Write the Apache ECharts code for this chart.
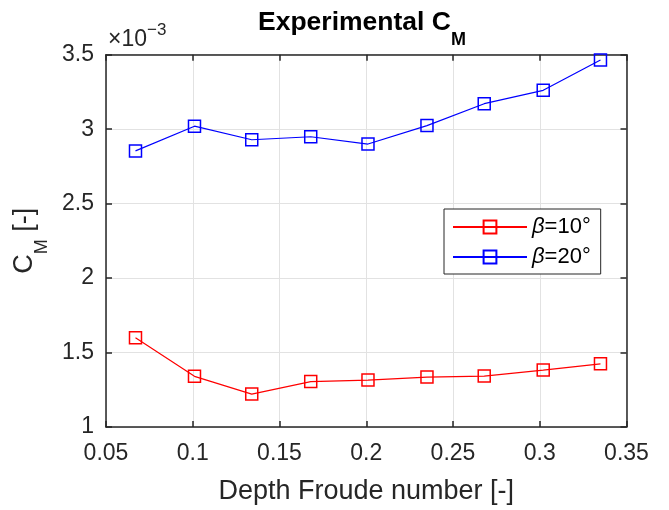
<!DOCTYPE html>
<html><head><meta charset="utf-8">
<script src="https://cdn.jsdelivr.net/npm/echarts@6/dist/echarts.min.js"></script>
<style>html,body{margin:0;padding:0;background:#fff}#c{width:669px;height:510px}</style>
</head><body><div id="c"></div>
<script>
// ---- data (C_M values in units of 1e-3) ----
const froude = [0.067, 0.101, 0.134, 0.168, 0.201, 0.235, 0.268, 0.302, 0.335];
const cmBeta10 = [1.599, 1.340, 1.221, 1.305, 1.315, 1.335, 1.342, 1.382, 1.424];
const cmBeta20 = [2.854, 3.020, 2.929, 2.949, 2.900, 3.024, 3.171, 3.261, 3.465];
const xTicks = [0.05, 0.1, 0.15, 0.2, 0.25, 0.3, 0.35];
const yTicks = [1, 1.5, 2, 2.5, 3, 3.5];
const seriesNames = ['β=10°', 'β=20°'];
const seriesColors = ['#ff0000', '#0000ff'];

const FONT = '"Liberation Sans", Arial, Helvetica, sans-serif';
const AX = '#262626';
const chart = echarts.init(document.getElementById('c'), null, {renderer: 'canvas'});
const toPairs = ys => froude.map((x, i) => [x, ys[i]]);

function axis(ticks, pos, main, labelMargin, extra) {
  return Object.assign({
    type: 'value', position: pos,
    min: ticks[0], max: ticks[ticks.length - 1], interval: ticks[1] - ticks[0],
    axisLine: {show: true, onZero: false, lineStyle: {color: AX, width: 1.5}},
    axisTick: {show: true, inside: true, length: 6, lineStyle: {color: AX, width: 1.5}},
    axisLabel: {show: main, color: AX, fontSize: 23, fontFamily: FONT, margin: labelMargin},
    splitLine: {show: main, lineStyle: {color: '#e2e2e2', width: 1}},
    minorTick: {show: false}
  }, extra || {});
}

const datasets = [cmBeta10, cmBeta20];

chart.setOption({
  animation: false,
  backgroundColor: '#fff',
  textStyle: {fontFamily: FONT},
  title: {
    text: '{a|Experimental C}{s|M}',
    left: 258, top: -3, padding: 0,
    textStyle: {
      rich: {
        a: {fontSize: 26.5, fontWeight: 'bold', color: '#000', fontFamily: FONT, lineHeight: 52},
        s: {fontSize: 18, fontWeight: 'bold', color: '#000', fontFamily: FONT, lineHeight: 18, verticalAlign: 'bottom'}
      }
    }
  },
  graphic: [{
    type: 'text', left: 108, top: 21.5,
    style: {
      text: '{a|×10}{b|\u22123}',
      rich: {
        a: {fontSize: 23, fill: AX, fontFamily: FONT, lineHeight: 36},
        b: {fontSize: 17, fill: AX, fontFamily: FONT, lineHeight: 18, verticalAlign: 'top'}
      }
    }
  }],
  grid: {left: 106, right: 42.5, top: 54.7, bottom: 78.7, containLabel: false},
  xAxis: [
    axis(xTicks, 'bottom', true, 15, {
      name: 'Depth Froude number [-]', nameLocation: 'middle', nameGap: 51,
      nameTextStyle: {fontSize: 27, color: AX, fontFamily: FONT}
    }),
    axis(xTicks, 'top', false, 10)
  ],
  yAxis: [
    axis(yTicks, 'left', true, 12, {
      name: '{c|C}{s|M}{c| [-]}', nameLocation: 'middle', nameGap: 55, nameRotate: 90,
      nameTextStyle: {
        rich: {
          c: {fontSize: 27, color: AX, fontFamily: FONT, lineHeight: 52},
          s: {fontSize: 18, color: AX, fontFamily: FONT, lineHeight: 18, verticalAlign: 'bottom'}
        }
      }
    }),
    axis(yTicks, 'right', false, 10)
  ],
  legend: {
    orient: 'vertical', left: 444, top: 209,
    backgroundColor: '#fff', borderColor: AX, borderWidth: 1,
    padding: [7, 10, 6, 8], itemGap: 8, itemWidth: 74, itemHeight: 16,
    data: seriesNames,
    formatter: n => '{i|' + n.slice(0, 1) + '}{n|' + n.slice(1) + '}',
    textStyle: {
      color: '#000', fontSize: 22, fontFamily: FONT,
      rich: {
        i: {fontStyle: 'italic', fontSize: 22, color: '#000', fontFamily: FONT},
        n: {fontSize: 22, color: '#000', fontFamily: FONT}
      }
    }
  },
  series: seriesNames.map((name, k) => ({
    type: 'line', name, data: toPairs(datasets[k]),
    xAxisIndex: 0, yAxisIndex: 0,
    color: seriesColors[k],
    symbol: 'rect', symbolSize: 12, showAllSymbol: true,
    lineStyle: {color: seriesColors[k], width: 1.2},
    itemStyle: {color: 'rgba(255,255,255,0)', borderColor: seriesColors[k], borderWidth: 1.5},
    emphasis: {disabled: true}
  }))
});
</script>
</body></html>
